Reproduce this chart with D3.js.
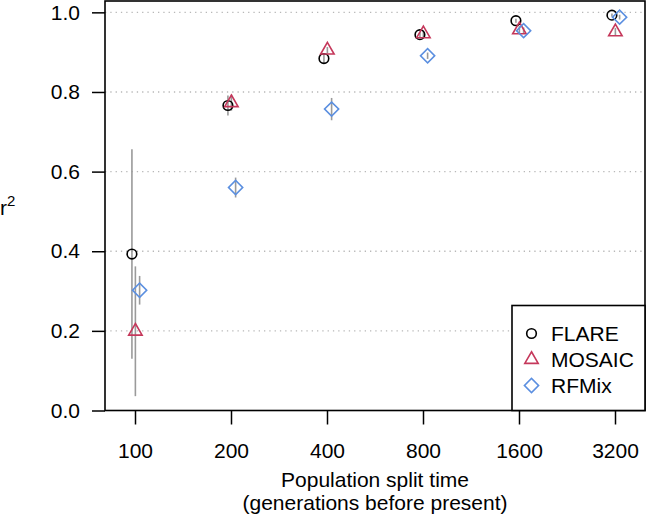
<!DOCTYPE html>
<html>
<head>
<meta charset="utf-8">
<script src="https://cdn.jsdelivr.net/npm/d3@7"></script>
<style>
  html, body { margin: 0; padding: 0; background: #fff; }
  svg { display: block; font-family: "Liberation Sans", Arial, Helvetica, sans-serif; }
</style>
</head>
<body>
<svg id="chart" width="647" height="516"></svg>
<script>
// ---- data ----
const splitTimes = [100, 200, 400, 800, 1600, 3200];
const yTicks = [0, 0.2, 0.4, 0.6, 0.8, 1.0];
const seriesNames = ["FLARE", "MOSAIC", "RFMix"];
const flareR2   = [0.393, 0.766, 0.884, 0.944, 0.979, 0.993];
const flareErr  = [0.263, 0.025, 0.012, 0.006, 0.005, 0.004];
const mosaicR2  = [0.199, 0.773, 0.905, 0.946, 0.956, 0.951];
const mosaicErr = [0.163, 0.020, 0.008, 0.008, 0.010, 0.010];
const rfmixR2   = [0.302, 0.560, 0.757, 0.891, 0.954, 0.988];
const rfmixErr  = [0.036, 0.025, 0.028, 0.008, 0.008, 0.006];

// ---- layout / style ----
const W = 647, H = 516;
const box = { left: 105, right: 645, top: 1, bottom: 410.5 };
const colors = { FLARE: "#000000", MOSAIC: "#C5385B", RFMix: "#5B8FE0" };
const jitter = { FLARE: -0.032, MOSAIC: 0.004, RFMix: 0.048 }; // log2 units
const fontSize = 21;

const svg = d3.select("#chart");

const pad = 0.3125;
const x = d3.scaleLog().base(2)
  .domain([100 / Math.pow(2, pad), 3200 * Math.pow(2, pad)])
  .range([box.left, box.right]);
const y = d3.scaleLinear().domain([0, 1.0285]).range([box.bottom, box.top]);

// gridlines
svg.append("g").selectAll("line")
  .data(yTicks.filter(d => d > 0))
  .join("line")
  .attr("x1", box.left).attr("x2", box.right)
  .attr("y1", d => y(d)).attr("y2", d => y(d))
  .attr("stroke", "#b8b8b8").attr("stroke-width", 1.3)
  .attr("stroke-dasharray", "1.3,4");

// axes
const yAxis = d3.axisLeft(y).tickValues(yTicks).tickFormat(d3.format(".1f"))
  .tickSize(13).tickPadding(12);
const gy = svg.append("g").attr("transform", `translate(${box.left},0)`).call(yAxis);
gy.select(".domain").remove();
gy.selectAll(".tick line").attr("stroke", "#000").attr("stroke-width", 1.5);
gy.selectAll(".tick text").attr("font-size", fontSize).attr("fill", "#000")
  .attr("font-family", "Liberation Sans, Arial, sans-serif");

const xAxis = d3.axisBottom(x).tickValues(splitTimes).tickFormat(d => String(d))
  .tickSize(14).tickPadding(19);
const gx = svg.append("g").attr("transform", `translate(0,${box.bottom})`).call(xAxis);
gx.select(".domain").remove();
gx.selectAll(".tick line").attr("stroke", "#000").attr("stroke-width", 1.5);
gx.selectAll(".tick text").attr("font-size", fontSize).attr("fill", "#000")
  .attr("font-family", "Liberation Sans, Arial, sans-serif");

// series
const series = [
  { name: "FLARE", vals: flareR2, errs: flareErr },
  { name: "MOSAIC", vals: mosaicR2, errs: mosaicErr },
  { name: "RFMix", vals: rfmixR2, errs: rfmixErr }
];

function symbolPath(name) {
  if (name === "FLARE") return d3.symbol().type(d3.symbolCircle).size(Math.PI * 4.8 * 4.8)();
  if (name === "MOSAIC") return d3.symbol().type(d3.symbolTriangle).size(78)();
  return d3.symbol().type(d3.symbolSquare).size(100)();
}
function symbolRotate(name) { return name === "RFMix" ? " rotate(45)" : ""; }

const xPos = (name, t) => x(t * Math.pow(2, jitter[name]));

// error bars
series.forEach(s => {
  svg.append("g").selectAll("line")
    .data(splitTimes.map((t, i) => ({ t, v: s.vals[i], e: s.errs[i] })))
    .join("line")
    .attr("x1", d => xPos(s.name, d.t)).attr("x2", d => xPos(s.name, d.t))
    .attr("y1", d => y(d.v - d.e)).attr("y2", d => y(d.v + d.e))
    .attr("stroke", "#9a9a9a").attr("stroke-width", 1.6);
});

// points
series.forEach(s => {
  svg.append("g").selectAll("path")
    .data(splitTimes.map((t, i) => ({ t, v: s.vals[i] })))
    .join("path")
    .attr("d", symbolPath(s.name))
    .attr("transform", d => `translate(${xPos(s.name, d.t)},${y(d.v)})` + symbolRotate(s.name))
    .attr("fill", "none")
    .attr("stroke", colors[s.name]).attr("stroke-width", 1.6);
});

// plot box
svg.append("rect")
  .attr("x", box.left).attr("y", box.top)
  .attr("width", box.right - box.left).attr("height", box.bottom - box.top)
  .attr("fill", "none").attr("stroke", "#000").attr("stroke-width", 1.6);

// legend
const leg = svg.append("g");
leg.append("rect")
  .attr("x", 512).attr("y", 305.5)
  .attr("width", box.right - 512).attr("height", box.bottom - 305.5)
  .attr("fill", "#fff").attr("stroke", "#000").attr("stroke-width", 1.6);
seriesNames.forEach((name, i) => {
  const cy = 333.5 + i * 26;
  leg.append("path").attr("d", symbolPath(name))
    .attr("transform", `translate(531.5,${cy})` + symbolRotate(name))
    .attr("fill", "none").attr("stroke", colors[name]).attr("stroke-width", 1.6);
  leg.append("text").attr("x", 551).attr("y", cy + 7.5)
    .attr("font-size", fontSize).attr("fill", "#000").text(name);
});

// axis titles
svg.append("text").attr("x", (box.left + box.right) / 2).attr("y", 487)
  .attr("text-anchor", "middle").attr("font-size", fontSize)
  .text("Population split time");
svg.append("text").attr("x", (box.left + box.right) / 2).attr("y", 510)
  .attr("text-anchor", "middle").attr("font-size", fontSize)
  .text("(generations before present)");

const yl = svg.append("text").attr("x", 0).attr("y", 215).attr("font-size", fontSize);
yl.append("tspan").text("r");
yl.append("tspan").attr("font-size", 15).attr("dy", -9).text("2");
</script>
</body>
</html>
